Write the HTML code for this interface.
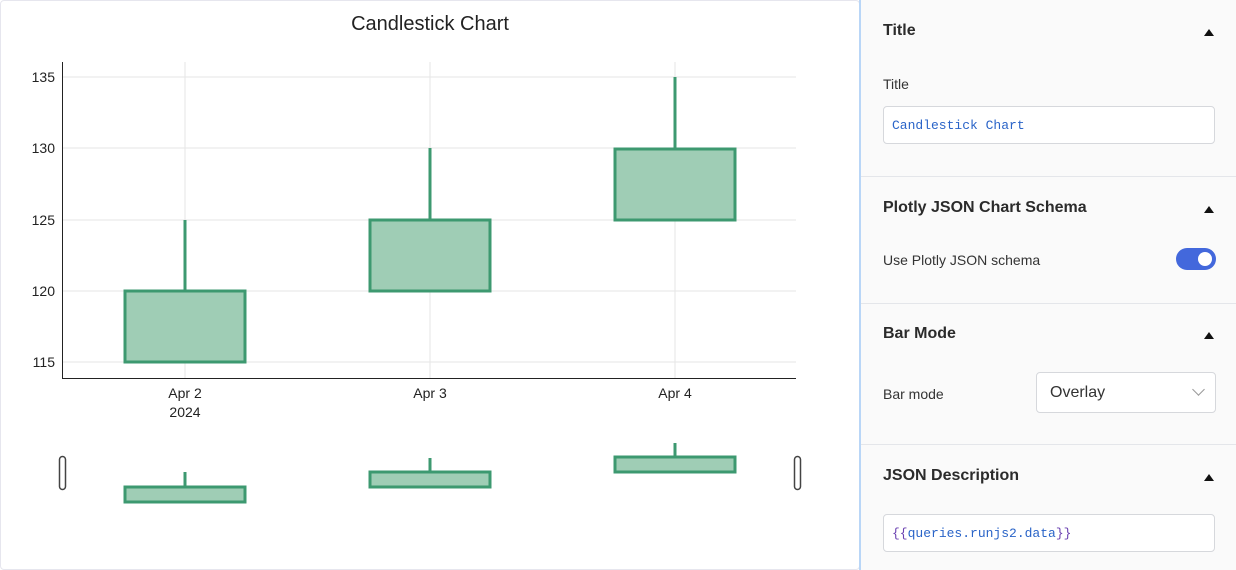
<!DOCTYPE html>
<html><head><style>
body{margin:0;width:1236px;height:570px;overflow:hidden;background:#fff;font-family:"Liberation Sans",sans-serif;position:relative}
.left{position:absolute;left:0;top:0;width:858px;height:568px;border:1px solid #e6e6ee;border-radius:4px;background:#fff}
.panel{position:absolute;left:859px;top:0;width:377px;height:570px;background:#fafafa;border-left:2px solid #b9d6f7}
.h{position:absolute;left:22px;font-size:16px;font-weight:bold;color:#2b2b2b}
.tri{position:absolute;right:24px;width:0;height:0;border-left:5px solid transparent;border-right:5px solid transparent;border-bottom:7px solid #111}
.lbl{position:absolute;left:22px;font-size:14px;color:#333}
.sep{position:absolute;left:0;right:0;height:1px;background:#e4e6ea}
.inp{position:absolute;left:22px;width:332px;height:38px;border:1px solid #d6d8dc;border-radius:4px;background:#fff;font-family:"Liberation Mono",monospace;font-size:13px;color:#2a64c8;line-height:38px;padding-left:8px;box-sizing:border-box}
</style></head><body>
<div class="left"></div>
<svg style="position:absolute;left:0;top:0" width="858" height="570" font-family="Liberation Sans, sans-serif">
<text x="430" y="30" text-anchor="middle" font-size="20" fill="#222">Candlestick Chart</text>
<g stroke="#e5e5e5" stroke-width="1">
<line x1="62" x2="796" y1="77" y2="77"/><line x1="62" x2="796" y1="148" y2="148"/><line x1="62" x2="796" y1="220" y2="220"/><line x1="62" x2="796" y1="291" y2="291"/><line x1="62" x2="796" y1="362" y2="362"/>
<line x1="185" x2="185" y1="62" y2="378"/><line x1="430" x2="430" y1="62" y2="378"/><line x1="675" x2="675" y1="62" y2="378"/>
</g>
<line x1="62.5" x2="62.5" y1="62" y2="378" stroke="#222"/>
<line x1="62" x2="796" y1="378.5" y2="378.5" stroke="#222"/>
<g font-size="14" fill="#222" text-anchor="end">
<text x="55" y="82">135</text><text x="55" y="153">130</text><text x="55" y="225">125</text><text x="55" y="296">120</text><text x="55" y="367">115</text>
</g>
<g font-size="14" fill="#222" text-anchor="middle">
<text x="185" y="398">Apr 2</text><text x="185" y="417">2024</text><text x="430" y="398">Apr 3</text><text x="675" y="398">Apr 4</text>
</g>
<g stroke="#3d9970" stroke-width="3" fill="#9fcdb5">
<line x1="185" x2="185" y1="220" y2="291"/><rect x="125" y="291" width="120" height="71"/>
<line x1="430" x2="430" y1="148" y2="220"/><rect x="370" y="220" width="120" height="71"/>
<line x1="675" x2="675" y1="77" y2="149"/><rect x="615" y="149" width="120" height="71"/>
<line x1="185" x2="185" y1="472" y2="487"/><rect x="125" y="487" width="120" height="15"/>
<line x1="430" x2="430" y1="458" y2="472"/><rect x="370" y="472" width="120" height="15"/>
<line x1="675" x2="675" y1="443" y2="457"/><rect x="615" y="457" width="120" height="15"/>
</g>
<rect x="59.5" y="456.5" width="6" height="33" rx="3" fill="#fff" stroke="#444" stroke-width="1.5"/>
<rect x="794.5" y="456.5" width="6" height="33" rx="3" fill="#fff" stroke="#444" stroke-width="1.5"/>
</svg>
<div class="panel">
<div class="h" style="top:22px">Title</div><div class="tri" style="top:29px"></div>
<div class="lbl" style="top:76px">Title</div>
<div class="inp" style="top:106px">Candlestick Chart</div>
<div class="sep" style="top:176px"></div>
<div class="h" style="top:199px">Plotly JSON Chart Schema</div><div class="tri" style="top:206px"></div>
<div class="lbl" style="top:252px">Use Plotly JSON schema</div>
<div style="position:absolute;left:315px;top:248px;width:40px;height:22px;border-radius:11px;background:#4368dc"><div style="position:absolute;right:4px;top:4px;width:14px;height:14px;border-radius:7px;background:#fff"></div></div>
<div class="sep" style="top:303px"></div>
<div class="h" style="top:325px">Bar Mode</div><div class="tri" style="top:332px"></div>
<div class="lbl" style="top:386px">Bar mode</div>
<div style="position:absolute;left:175px;top:372px;width:180px;height:41px;border:1px solid #d6d8dc;border-radius:4px;background:#fff;box-sizing:border-box;font-size:16px;color:#333;line-height:40px;padding-left:13px">Overlay<span style="position:absolute;right:12px;top:12px;width:8px;height:8px;border-right:1.5px solid #999;border-bottom:1.5px solid #999;transform:rotate(45deg)"></span></div>
<div class="sep" style="top:444px"></div>
<div class="h" style="top:467px">JSON Description</div><div class="tri" style="top:474px"></div>
<div class="inp" style="top:514px;color:#6a40b0">{{<span style="color:#2a64c8">queries.runjs2.data</span>}}</div>
</div>
</body></html>
